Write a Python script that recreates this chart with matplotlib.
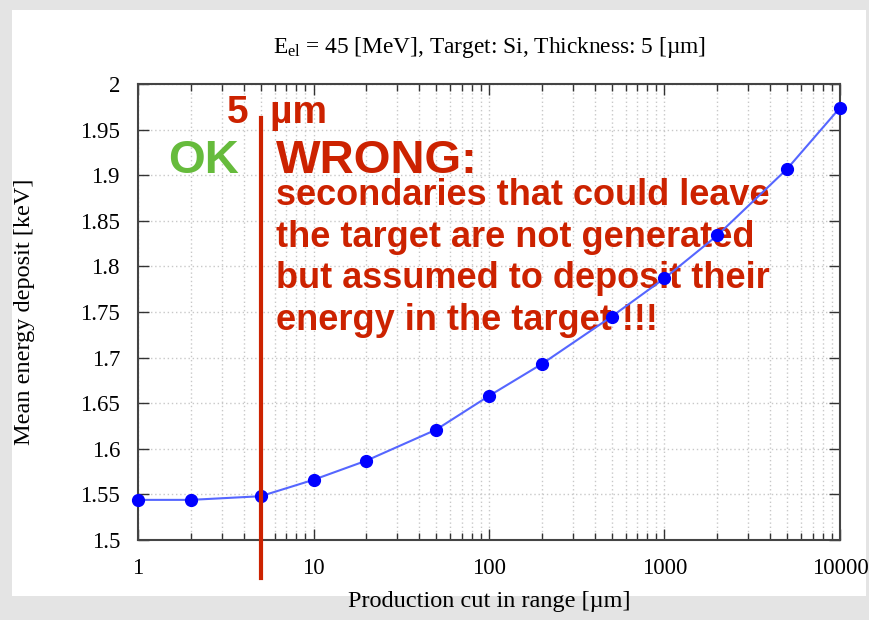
import matplotlib
matplotlib.use("Agg")
import matplotlib.pyplot as plt
from matplotlib.patches import Rectangle
from matplotlib.ticker import LogLocator, FixedLocator, NullFormatter, FixedFormatter
import matplotlib.transforms as mtransforms

# Data
cuts_um = [1, 2, 5, 10, 20, 50, 100, 200, 500, 1000, 2000, 5000, 10000]
mean_edep_keV = [1.544, 1.544, 1.548, 1.566, 1.587, 1.621, 1.658, 1.693, 1.745, 1.787, 1.834, 1.907, 1.974]
x_ticks = [1, 10, 100, 1000, 10000]
x_tick_labels = ["1", "10", "100", "1000", "10000"]
y_ticks = [1.5, 1.55, 1.6, 1.65, 1.7, 1.75, 1.8, 1.85, 1.9, 1.95, 2.0]
y_tick_labels = ["1.5", "1.55", "1.6", "1.65", "1.7", "1.75", "1.8", "1.85", "1.9", "1.95", "2"]
thickness_um = 5
title = r"E$_{\mathrm{el}}$ = 45 [MeV], Target: Si, Thickness: 5 [µm]"
xlabel = "Production cut in range [µm]"
ylabel = "Mean energy deposit [keV]"
note_lines = ["secondaries that could leave",
              "the target are not generated",
              "but assumed to deposit their",
              "energy in the target !!!"]

plt.rcParams['font.family'] = ['Liberation Serif', 'DejaVu Serif']
plt.rcParams['mathtext.fontset'] = 'custom'
plt.rcParams['mathtext.rm'] = 'Liberation Serif'
plt.rcParams['mathtext.it'] = 'Liberation Serif:italic'

W, H = 870, 620
fig = plt.figure(figsize=(8.7, 6.2), dpi=100, facecolor='#e4e4e4')
# white slide area
fig.patches.append(Rectangle((12 / W, 1 - 596 / H), (866 - 12) / W, (596 - 10) / H,
                             transform=fig.transFigure, facecolor='white', edgecolor='none', zorder=-10))

def fx(px):
    return px / W

def fy(py):
    return 1 - py / H

ax = fig.add_axes([fx(138), fy(540), fx(840) - fx(138), fy(84) - fy(540)])
ax.set_facecolor('white')
ax.set_xscale('log')
ax.set_xlim(1, 10000)
ax.set_ylim(1.5, 2.0)

ax.plot(cuts_um, mean_edep_keV, color='#5566ff', lw=1.5, zorder=3)
ax.plot(cuts_um, mean_edep_keV, 'o', color='#0000ff', ms=8.5, zorder=4, clip_on=False)

ax.xaxis.set_major_locator(FixedLocator(x_ticks))
ax.xaxis.set_major_formatter(FixedFormatter(x_tick_labels))
ax.xaxis.set_minor_locator(LogLocator(base=10, subs=range(2, 10)))
ax.xaxis.set_minor_formatter(NullFormatter())
ax.yaxis.set_major_locator(FixedLocator(y_ticks))
ax.yaxis.set_major_formatter(FixedFormatter(y_tick_labels))

ax.grid(True, which='major', color='#c8c8c8', ls=(0, (1, 2)), lw=1)
ax.grid(True, which='minor', axis='x', color='#c8c8c8', ls=(0, (1, 2)), lw=1)

ax.tick_params(which='both', direction='in', top=True, right=True, labelsize=16.5, color='#333333')
ax.tick_params(axis='x', which='both', pad=13)
ax.tick_params(axis='y', which='both', pad=13)
ax.tick_params(which='major', length=8, width=1)
ax.tick_params(which='minor', length=5, width=1)
for s in ax.spines.values():
    s.set_color('#444444')
    s.set_linewidth(1.5)

ax.set_xlabel(xlabel, fontsize=17.5)
ax.xaxis.set_label_coords(0.5, (540 - 602) / 456, transform=ax.transAxes)
ax.xaxis.label.set_va('center')
ax.set_ylabel(ylabel, fontsize=17.5)
ax.yaxis.set_label_coords((24 - 138) / 702, 0.5, transform=ax.transAxes)
ax.yaxis.label.set_va('center')
ax.set_title(title, fontsize=16.8, pad=22)

# vertical red line at thickness
red = '#cc2200'
trans = mtransforms.blended_transform_factory(ax.transData, ax.transAxes)
ax.plot([thickness_um, thickness_um], [(540 - 118) / 456, (540 - 578) / 456],
        color=red, lw=3, transform=trans, clip_on=False, zorder=5)

sans = ['Liberation Sans', 'DejaVu Sans']
ft = fig.transFigure
ax.text(fx(227), fy(123), "5  µm", color=red, fontsize=28, fontweight='bold', family=sans,
        transform=ft, zorder=2, clip_on=False)
ax.text(fx(168), fy(173), "OK", color='#66bb3c', fontsize=34, fontweight='bold', family=sans,
        transform=ft, zorder=2, clip_on=False)
ax.text(fx(276), fy(173), "WRONG:", color=red, fontsize=34, fontweight='bold', family=sans,
        transform=ft, zorder=2, clip_on=False)
baselines = [205, 247, 288, 330]
for line, b in zip(note_lines, baselines):
    ax.text(fx(276), fy(b), line, color=red, fontsize=26, fontweight='bold', family=sans,
            transform=ft, zorder=2, clip_on=False)

fig.savefig('out.png', dpi=100, facecolor=fig.get_facecolor())
